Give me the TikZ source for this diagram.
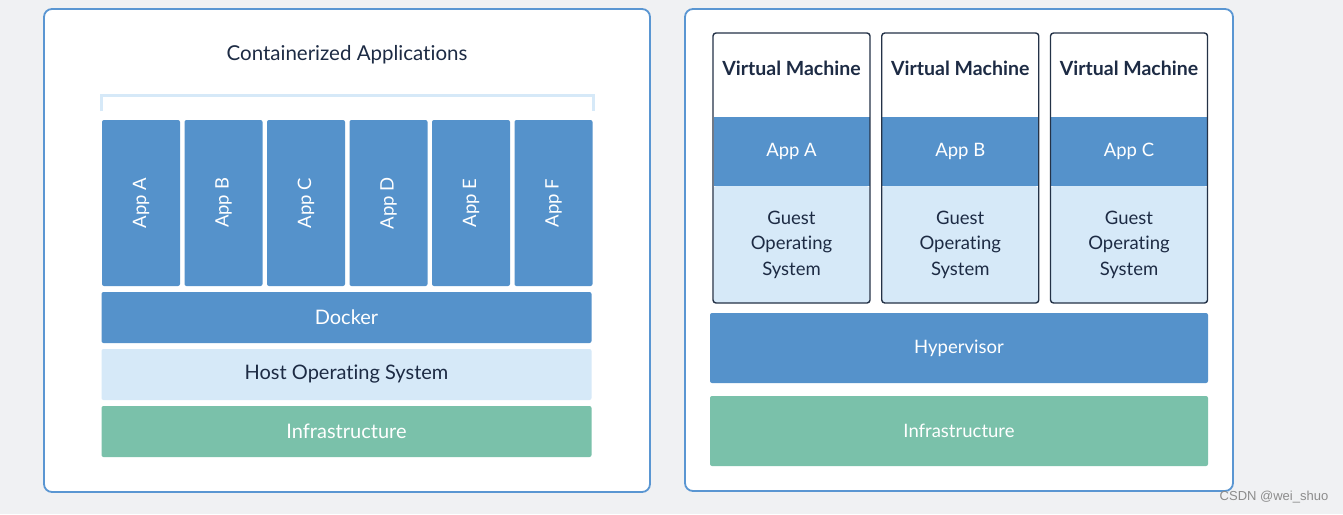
\documentclass[tikz,border=0pt]{standalone}
\usepackage{fontspec}
\setmainfont{Lato}[Ligatures=NoCommon]
\newfontfamily\markfont{Liberation Sans}

\definecolor{pagegray}{HTML}{F0F1F3}
\definecolor{panelblue}{HTML}{5A96D2}
\definecolor{appblue}{HTML}{5592CB}
\definecolor{oslight}{HTML}{D6E9F8}
\definecolor{infragreen}{HTML}{7AC1AA}
\definecolor{navy}{HTML}{1D2B44}
\definecolor{vmborder}{HTML}{243247}

\tikzset{
  panel/.style={draw=panelblue, line width=1.8pt, fill=white, rounded corners=8pt},
  block/.style={inner sep=0pt, outer sep=0pt, rounded corners=2pt, font=\fontsize{18.5}{25.5}\selectfont},
  appbox/.style={block, fill=appblue, text=white, rotate=90, minimum width=166pt, minimum height=78pt},
  layer/.style={block, minimum width=490pt, minimum height=51pt, font=\fontsize{20}{24}\selectfont},
  vmlayer/.style={block, minimum width=498pt, minimum height=70pt},
  vmbox/.style={draw=vmborder, line width=1.4pt, rounded corners=3pt, inner sep=0pt, minimum width=157pt, minimum height=270pt},
  band/.style={inner sep=0pt, outer sep=0pt, minimum width=156pt, font=\fontsize{18.5}{25.5}\selectfont},
}

\begin{document}
\begin{tikzpicture}[x=1pt,y=-1pt]
\fill[pagegray] (0,0) rectangle (1343,514);
\useasboundingbox (0,0) rectangle (1343,514);

% left panel: containers
\draw[panel] (44,9) rectangle (650,492);
\node[font=\fontsize{20.5}{24}\selectfont, text=navy] (title) at (347,55) {Containerized Applications};
\draw[oslight, line width=3pt] (101,111) -- (101,95) -- (593,95) -- (593,111);
\foreach \i/\n in {0/A,1/B,2/C,3/D,4/E,5/F}
  \node[appbox] (app\n) at (141+82.5*\i,203) {App \n};
\node[layer, fill=appblue, text=white] (docker) at (346.5,317.5) {Docker};
\node[layer, fill=oslight, text=navy] (hostos) at (346.5,374.5) {Host Operating System};
\node[layer, fill=infragreen, text=white] (infraL) at (346.5,431.5) {Infrastructure};

% right panel: virtual machines
\draw[panel] (685,9) rectangle (1233,491);
\foreach \i/\n in {0/A,1/B,2/C} {
  \node[band, fill=oslight, minimum height=117pt, rounded corners=3pt, align=center, text=navy] (guest\n) at (791.5+168.75*\i,244.5) {Guest\\Operating\\System};
  \node[band, fill=appblue, minimum height=69pt, text=white] (vmapp\n) at (791.5+168.75*\i,151.5) {App \n};
  \node[vmbox] (vm\n) at (791.5+168.75*\i,168) {};
  \node[font=\bfseries\fontsize{19.5}{23}\selectfont, text=navy] (vmtitle\n) at (791.5+168.75*\i,68) {Virtual Machine};
}
\node[vmlayer, fill=appblue, text=white] (hypervisor) at (959,348) {Hypervisor};
\node[vmlayer, fill=infragreen, text=white] (infraR) at (959,431) {Infrastructure};

\node[font=\markfont\fontsize{13}{15}\selectfont, text=black!45] (mark) at (1274,497) {CSDN @wei\_shuo};
\end{tikzpicture}
\end{document}
